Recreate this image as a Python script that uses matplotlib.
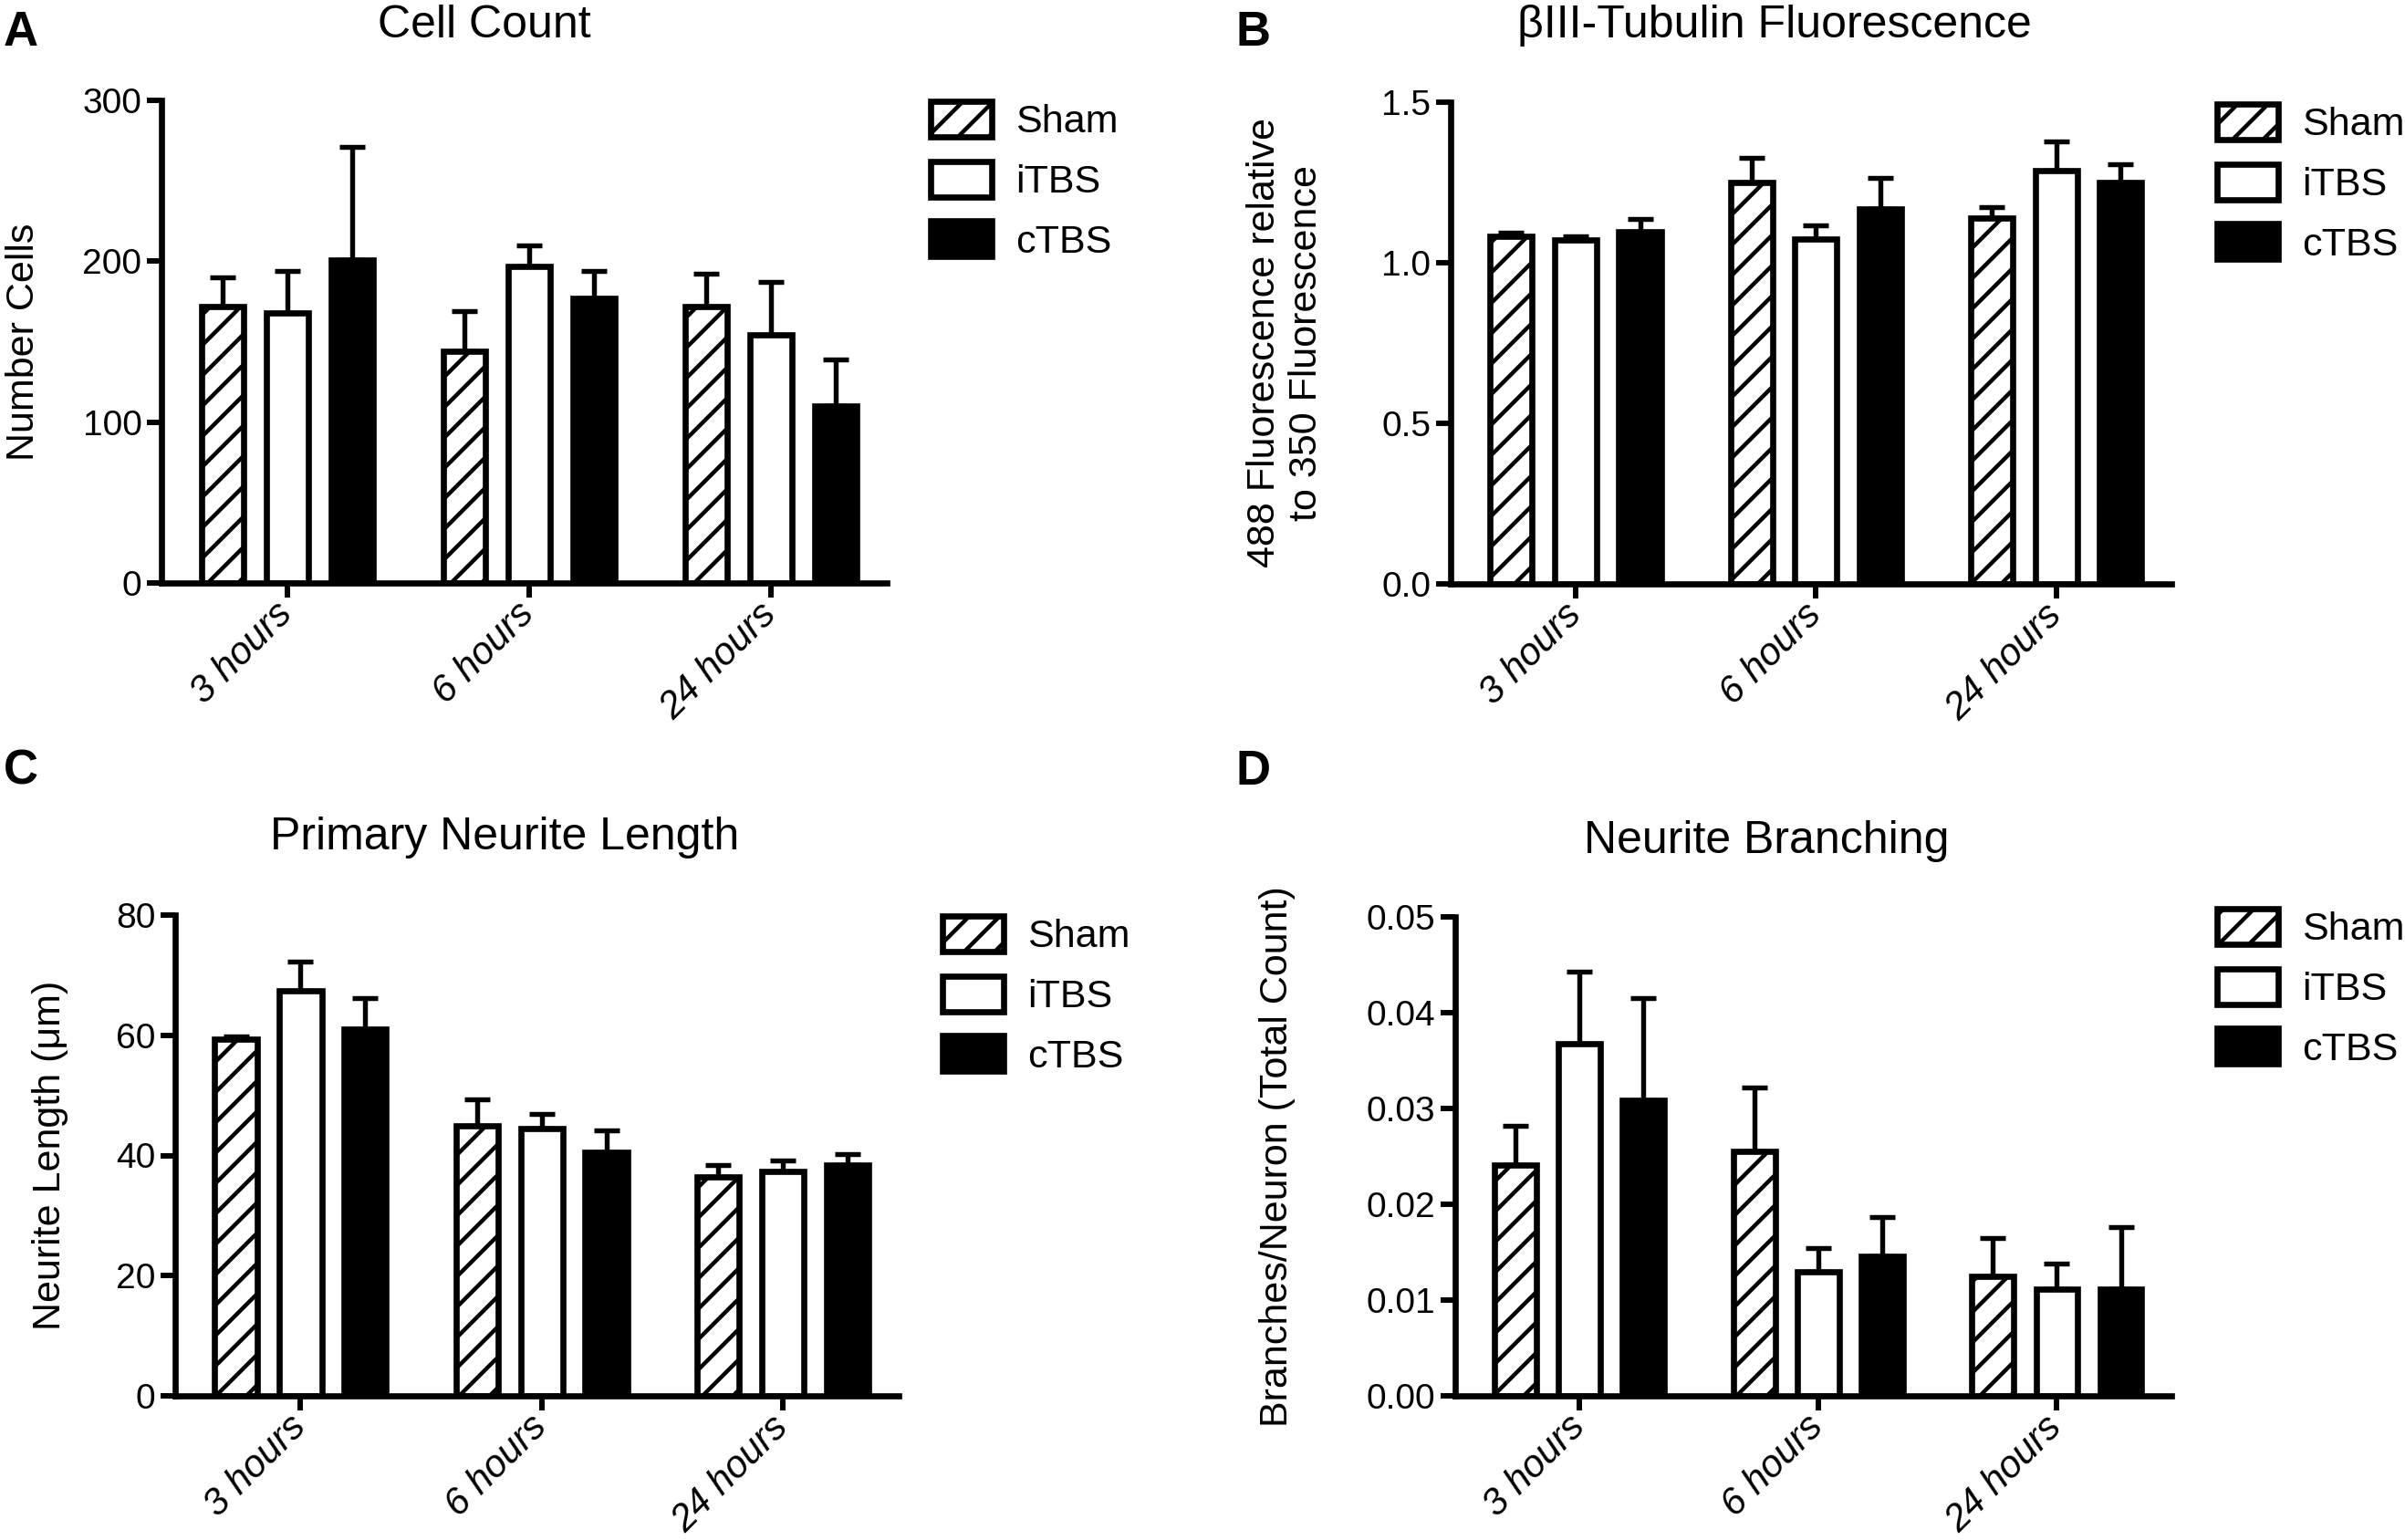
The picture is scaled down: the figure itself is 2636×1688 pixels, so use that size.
import matplotlib
matplotlib.use("Agg")
import matplotlib.pyplot as plt
import matplotlib.transforms as mtransforms
import numpy as np

plt.rcParams["font.family"] = ["Liberation Sans", "DejaVu Sans"]
plt.rcParams["hatch.linewidth"] = 3.2

groups = ["3 hours", "6 hours", "24 hours"]
treatments = ["Sham", "iTBS", "cTBS"]

# rows: Sham, iTBS, cTBS ; columns: 3 h, 6 h, 24 h  (mean, upper SEM)
cell_mean = [[172, 144, 172], [168, 197, 154], [201, 177, 110]]
cell_err = [[18, 25, 20], [26, 13, 33], [70, 17, 29]]

tub_mean = [[1.082, 1.249, 1.139], [1.072, 1.075, 1.286], [1.098, 1.169, 1.249]]
tub_err = [[0.012, 0.078, 0.033], [0.010, 0.042, 0.092], [0.039, 0.094, 0.057]]

length_mean = [[59.3, 45.0, 36.5], [67.4, 44.5, 37.4], [61.1, 40.5, 38.4]]
length_err = [[0.5, 4.3, 1.9], [4.9, 2.4, 1.8], [5.1, 3.7, 1.9]]

branch_mean = [[0.0241, 0.0255, 0.01245], [0.0368, 0.0130, 0.0111], [0.0309, 0.0146, 0.0111]]
branch_err = [[0.0041, 0.0067, 0.0040], [0.0075, 0.0024, 0.0027], [0.0106, 0.0041, 0.0065]]

W, H = 2636, 1688
fig = plt.figure(figsize=(W / 100, H / 100), dpi=100)

faces = ["white", "white", "black"]
hatches = ["/", None, None]
pitch = 0.268
LW = 4.8


def px_rect(l, t, r, b):
    return [l / W, 1 - b / H, (r - l) / W, (b - t) / H]


def panel(box, means, errs, ylim, yticks, yticklabels, ylabel, label_x, leg_xy):
    ax = fig.add_axes(px_rect(*box))
    x = np.arange(len(groups))
    for i, t in enumerate(treatments):
        xi = x + (i - 1) * pitch
        ax.errorbar(xi, means[i], yerr=[np.zeros(len(groups)), errs[i]], fmt="none",
                    ecolor="black", elinewidth=3.9, capsize=10, capthick=3.9, zorder=1)
        ax.bar(xi, means[i], width=0.175, facecolor=faces[i], edgecolor="black",
               linewidth=LW, hatch=hatches[i], label=t, zorder=2)
    ax.set_xlim(-0.52, 2.48)
    ax.set_ylim(*ylim)
    ax.set_yticks(yticks)
    ax.set_yticklabels(yticklabels)
    ax.set_xticks(x)
    ax.set_xticklabels(groups, rotation=45, ha="right", va="center",
                       rotation_mode="anchor", fontsize=30, style="italic")
    for s in ["top", "right"]:
        ax.spines[s].set_visible(False)
    for s in ["left", "bottom"]:
        ax.spines[s].set_linewidth(LW)
    ax.tick_params(axis="both", width=4.3, length=11.5, labelsize=28, pad=4)
    ax.tick_params(axis="x", labelsize=30, pad=9)
    ax.set_ylabel(ylabel, fontsize=31)
    tr = mtransforms.blended_transform_factory(fig.transFigure, ax.transAxes)
    ax.yaxis.set_label_coords(label_x / W, 0.5, transform=tr)
    ax.legend(loc="upper left", bbox_to_anchor=(leg_xy[0] / W, 1 - leg_xy[1] / H),
              bbox_transform=fig.transFigure, frameon=False, fontsize=31,
              handlelength=1.56, handleheight=1.02, labelspacing=0.52,
              handletextpad=0.6, borderpad=0, borderaxespad=0)
    return ax


panel((177, 110, 972, 639), cell_mean, cell_err, (0, 300), [0, 100, 200, 300],
      ["0", "100", "200", "300"], "Number Cells", 46, (1020, 111))
panel((1590, 112, 2380, 640), tub_mean, tub_err, (0, 1.5), [0, 0.5, 1.0, 1.5],
      ["0.0", "0.5", "1.0", "1.5"], "488 Fluorescence relative\nto 350 Fluorescence",
      1452, (2430, 114))
panel((192, 1003, 985, 1530), length_mean, length_err, (0, 80), [0, 20, 40, 60, 80],
      ["0", "20", "40", "60", "80"], "Neurite Length (μm)", 75, (1033, 1004))
panel((1595, 1005, 2380, 1530), branch_mean, branch_err, (0, 0.05),
      [0, 0.01, 0.02, 0.03, 0.04, 0.05],
      ["0.00", "0.01", "0.02", "0.03", "0.04", "0.05"],
      "Branches/Neuron (Total Count)", 1420, (2430, 996))

titles = ["Cell Count", "βIII-Tubulin Fluorescence", "Primary Neurite Length", "Neurite Branching"]
title_xy = [(531, 41), (1945, 41), (553, 931), (1936, 935)]
for t, (tx, ty) in zip(titles, title_xy):
    fig.text(tx / W, 1 - ty / H, t, fontsize=36, ha="center", va="baseline")

letters = ["A", "B", "C", "D"]
letter_xy = [(4, 50), (1355, 50), (4, 860), (1355, 860)]
for t, (tx, ty) in zip(letters, letter_xy):
    fig.text(tx / W, 1 - ty / H, t, fontsize=38, fontweight="bold", ha="left", va="baseline")

fig.savefig("out.png", dpi=100)
